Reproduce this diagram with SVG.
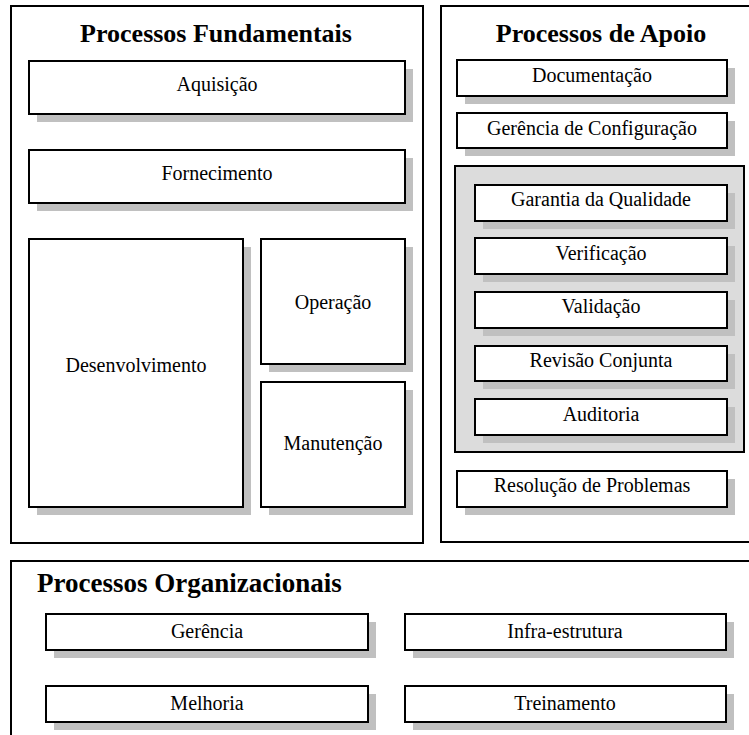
<svg xmlns="http://www.w3.org/2000/svg" width="749" height="735" viewBox="0 0 749 735">
<style>
.frame{fill:#fff;stroke:#000;stroke-width:2}
.box{fill:#fff;stroke:#000;stroke-width:2}
.sh{fill:#c0c0c0}
.grp{fill:#dcdcdc;stroke:#000;stroke-width:2}
.t{font-family:"Liberation Serif","Times New Roman",serif;font-size:20px;fill:#000;text-anchor:middle}
.h{font-family:"Liberation Serif","Times New Roman",serif;font-size:26px;font-weight:bold;fill:#000}
</style>
<rect width="749" height="735" fill="#fff"/>
<g id="fundamentais">
<rect class="frame" x="11" y="6" width="412" height="537"/>
<text class="h" x="216" y="42" text-anchor="middle">Processos Fundamentais</text>
</g>
<g id="aquisicao"><rect class="sh" x="37" y="69" width="376" height="53"/><rect class="box" x="29" y="61" width="376" height="53"/><text class="t" x="217" y="91">Aquisição</text></g>
<g id="fornecimento"><rect class="sh" x="37" y="158" width="376" height="53"/><rect class="box" x="29" y="150" width="376" height="53"/><text class="t" x="217" y="180">Fornecimento</text></g>
<g id="desenvolvimento"><rect class="sh" x="37" y="247" width="214" height="268"/><rect class="box" x="29" y="239" width="214" height="268"/><text class="t" x="136" y="372">Desenvolvimento</text></g>
<g id="operacao"><rect class="sh" x="269" y="247" width="144" height="125"/><rect class="box" x="261" y="239" width="144" height="125"/><text class="t" x="333" y="309">Operação</text></g>
<g id="manutencao"><rect class="sh" x="269" y="390" width="144" height="125"/><rect class="box" x="261" y="382" width="144" height="125"/><text class="t" x="333" y="450">Manutenção</text></g>

<g id="apoio">
<rect class="frame" x="441" y="6" width="330" height="536"/>
<text class="h" x="601" y="42" text-anchor="middle">Processos de Apoio</text>
</g>
<g id="documentacao"><rect class="sh" x="465" y="68" width="270" height="36"/><rect class="box" x="457" y="60" width="270" height="36"/><text class="t" x="592" y="82">Documentação</text></g>
<g id="gerencia-config"><rect class="sh" x="465" y="121" width="270" height="35"/><rect class="box" x="457" y="113" width="270" height="35"/><text class="t" x="592" y="135">Gerência de Configuração</text></g>
<g id="grupo-qualidade"><rect class="grp" x="455" y="166" width="289" height="286"/></g>
<g id="garantia"><rect class="sh" x="483" y="193" width="252" height="36"/><rect class="box" x="475" y="185" width="252" height="36"/><text class="t" x="601" y="206">Garantia da Qualidade</text></g>
<g id="verificacao"><rect class="sh" x="483" y="246" width="252" height="36"/><rect class="box" x="475" y="238" width="252" height="36"/><text class="t" x="601" y="260">Verificação</text></g>
<g id="validacao"><rect class="sh" x="483" y="300" width="252" height="36"/><rect class="box" x="475" y="292" width="252" height="36"/><text class="t" x="601" y="313">Validação</text></g>
<g id="revisao"><rect class="sh" x="483" y="354" width="252" height="35"/><rect class="box" x="475" y="346" width="252" height="35"/><text class="t" x="601" y="367">Revisão Conjunta</text></g>
<g id="auditoria"><rect class="sh" x="483" y="407" width="252" height="36"/><rect class="box" x="475" y="399" width="252" height="36"/><text class="t" x="601" y="421">Auditoria</text></g>
<g id="resolucao"><rect class="sh" x="465" y="479" width="270" height="36"/><rect class="box" x="457" y="471" width="270" height="36"/><text class="t" x="592" y="492">Resolução de Problemas</text></g>

<g id="organizacionais">
<rect class="frame" x="11" y="561" width="760" height="200"/>
<text class="h" x="37" y="592" style="font-size:27px">Processos Organizacionais</text>
</g>
<g id="gerencia"><rect class="sh" x="54" y="622" width="322" height="36"/><rect class="box" x="46" y="614" width="322" height="36"/><text class="t" x="207" y="638">Gerência</text></g>
<g id="infra"><rect class="sh" x="413" y="622" width="321" height="36"/><rect class="box" x="405" y="614" width="321" height="36"/><text class="t" x="565" y="638">Infra-estrutura</text></g>
<g id="melhoria"><rect class="sh" x="54" y="694" width="322" height="36"/><rect class="box" x="46" y="686" width="322" height="36"/><text class="t" x="207" y="710">Melhoria</text></g>
<g id="treinamento"><rect class="sh" x="413" y="694" width="321" height="36"/><rect class="box" x="405" y="686" width="321" height="36"/><text class="t" x="565" y="710">Treinamento</text></g>
<g id="connectors"></g>
</svg>
